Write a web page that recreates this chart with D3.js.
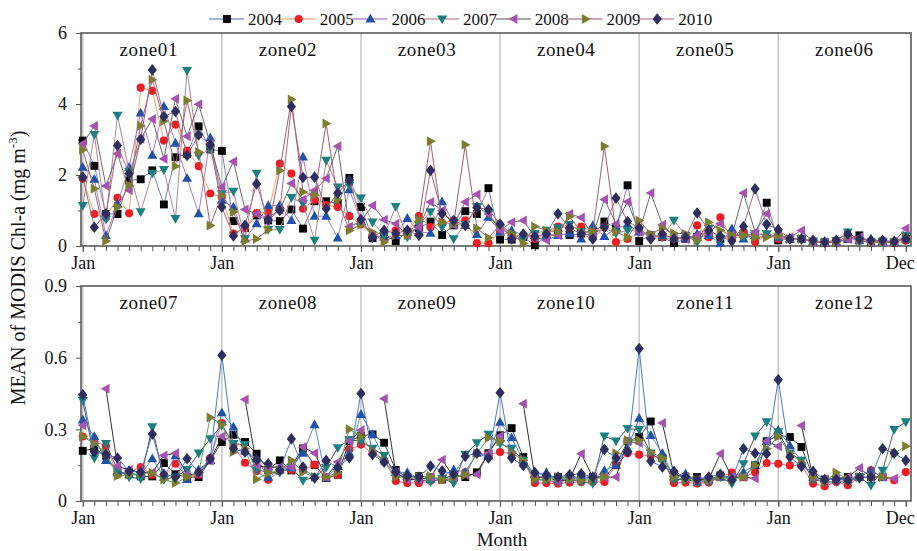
<!DOCTYPE html>
<html>
<head>
<meta charset="utf-8">
<style>
body { margin: 0; background: #fff; }
text { font-family: "Liberation Serif", "Times New Roman", serif; fill: #111; }
.axis .domain { display: none; }
.axis line { stroke: #555; }
</style>
</head>
<body>
<svg width="917" height="551"></svg>
<script src="https://d3js.org/d3.v7.min.js"></script>
<script>
var years = ["2004", "2005", "2006", "2007", "2008", "2009", "2010"];
var zonesUpper = ["zone01", "zone02", "zone03", "zone04", "zone05", "zone06"];
var zonesLower = ["zone07", "zone08", "zone09", "zone10", "zone11", "zone12"];
var tickLabels = ["Jan", "Jan", "Jan", "Jan", "Jan", "Jan", "Dec"];

// upper panel, 6 zones x 12 months
var upper2004 = [2.97,2.26,0.9,0.9,1.85,1.88,2.13,1.17,2.5,2.6,3.37,2.72,
  2.68,0.7,0.5,0.86,0.72,0.7,1.03,0.49,1.26,1.26,1.19,1.92,
  1.1,0.22,0.3,0.14,0.4,0.5,0.69,0.31,0.58,0.98,0.9,1.63,
  0.18,0.18,0.25,0.02,0.3,0.35,0.31,0.35,0.3,0.69,0.5,1.71,
  0.14,0.3,0.25,0.08,0.2,0.25,0.3,0.2,0.3,0.34,0.3,1.22,
  0.16,0.2,0.2,0.12,0.1,0.1,0.2,0.3,0.1,0.12,0.1,0.2];
var upper2005 = [1.9,0.9,0.8,1.36,0.92,4.46,4.37,2.97,3.42,2.69,2.25,1.48,
  1.38,0.35,0.5,0.93,0.94,2.32,2.04,1.05,1.3,1.15,1.1,0.84,
  0.61,0.3,0.4,0.44,0.4,0.84,0.53,0.65,0.72,0.72,0.08,0.08,
  0.4,0.3,0.3,0.2,0.3,0.55,0.5,0.55,0.4,0.53,0.11,0.2,
  0.4,0.25,0.25,0.2,0.2,0.58,0.25,0.81,0.2,0.39,0.11,0.3,
  0.2,0.2,0.2,0.12,0.1,0.13,0.2,0.15,0.1,0.12,0.08,0.15];
var upper2006 = [2.22,1.88,0.3,1.19,2.22,3.75,2.56,3.93,2.9,1.91,0.91,3.05,
  1.29,1.1,0.2,0.63,1.14,1.15,0.72,2.51,0.84,0.84,0.23,1.59,
  0.7,0.3,0.25,0.3,0.78,0.4,0.36,1.25,0.65,0.58,0.33,0.81,
  0.4,0.44,0.3,0.3,0.3,0.3,0.35,0.2,0.58,0.27,0.5,0.6,
  0.4,0.3,0.3,0.25,0.2,0.34,0.3,0.08,0.49,0.2,0.3,0.35,
  0.25,0.2,0.2,0.12,0.1,0.1,0.2,0.15,0.2,0.12,0.1,0.2];
var upper2007 = [1.14,3.14,0.75,3.68,2.1,0.96,2.05,2.15,0.77,4.94,2.55,2.73,
  1.47,1.54,0.2,2.05,0.46,0.46,1.36,1.2,0.16,2.41,1.66,1.7,
  1.35,0.67,0.3,1.11,0.25,0.6,0.96,0.53,0.2,0.6,1.11,0.9,
  0.5,0.3,0.2,0.35,0.44,0.51,0.6,0.4,0.35,0.5,0.36,0.44,
  0.45,0.3,0.25,0.72,0.3,0.11,0.5,0.2,0.25,0.25,0.34,0.34,
  0.25,0.2,0.2,0.12,0.1,0.15,0.39,0.15,0.1,0.12,0.1,0.3];
var upper2008 = [2.88,3.38,1.69,2.6,1.57,3.02,3.58,2.46,4.15,3.09,3.99,2.88,
  1.66,2.38,1.03,0.9,0.8,1.02,1.76,1.31,1.57,1.9,2.81,0.54,
  0.7,1.14,0.74,0.63,0.3,0.53,1.24,1.0,0.6,1.24,1.45,0.9,
  0.44,0.67,0.72,0.25,0.16,0.3,0.91,0.8,0.3,1.31,0.63,1.25,
  0.4,1.49,0.6,0.25,0.2,0.3,0.4,0.63,0.3,1.49,0.39,0.91,
  0.3,0.25,0.44,0.12,0.1,0.1,0.2,0.25,0.1,0.12,0.13,0.49];
var upper2009 = [2.71,1.61,0.14,1.1,1.71,3.39,4.68,3.52,2.25,4.1,2.65,0.58,
  1.43,0.96,0.14,0.2,0.46,2.13,4.13,1.52,1.43,3.45,1.3,0.44,
  0.6,0.39,0.11,0.3,0.3,0.74,2.95,0.67,0.62,2.85,0.5,0.23,
  0.6,0.35,0.08,0.55,0.44,0.4,0.83,0.4,0.4,2.81,0.4,0.25,
  0.72,0.34,0.5,0.36,0.34,0.16,0.67,0.44,0.3,0.3,0.25,0.25,
  0.3,0.2,0.2,0.12,0.1,0.1,0.3,0.15,0.1,0.12,0.1,0.25];
var upper2010 = [1.94,0.53,0.91,2.83,2.04,3.0,4.96,3.65,3.79,2.55,3.13,2.85,
  1.1,0.28,0.58,1.75,0.74,1.0,3.93,1.93,1.94,1.05,1.49,1.85,
  0.75,0.25,0.44,0.35,0.44,0.3,2.13,0.91,0.72,0.58,1.08,1.03,
  0.62,0.2,0.34,0.27,0.34,0.91,0.51,0.34,0.2,0.53,1.35,0.69,
  0.51,0.2,0.34,0.2,0.25,0.93,0.44,0.27,0.14,0.55,1.61,0.61,
  0.46,0.2,0.2,0.16,0.11,0.16,0.34,0.2,0.16,0.16,0.13,0.2];

// lower panel
var lower2004 = [0.21,0.22,0.19,0.12,0.12,0.103,0.103,0.159,0.112,0.1,0.1,0.17,
  0.247,0.277,0.247,0.198,0.13,0.17,0.128,0.22,0.15,0.096,0.11,0.25,
  0.273,0.279,0.244,0.13,0.1,0.104,0.1,0.09,0.11,0.1,0.12,0.2,
  0.275,0.305,0.184,0.1,0.1,0.1,0.1,0.1,0.1,0.1,0.15,0.25,
  0.268,0.333,0.18,0.11,0.1,0.1,0.09,0.107,0.1,0.1,0.15,0.25,
  0.275,0.268,0.226,0.1,0.09,0.09,0.1,0.1,0.1,0.1,null,null];
var lower2005 = [0.27,0.25,0.23,0.11,0.12,0.142,0.11,0.1,0.156,0.1,0.11,0.18,
  0.326,0.23,0.16,0.126,0.089,0.125,0.13,0.13,0.152,0.1,0.11,0.216,
  0.236,0.2,0.17,0.084,0.075,0.075,0.085,0.09,0.09,0.12,0.2,0.194,
  0.205,0.2,0.17,0.075,0.075,0.073,0.077,0.08,0.08,0.08,0.15,0.2,
  0.194,0.19,0.18,0.075,0.077,0.073,0.077,0.1,0.119,0.1,0.12,0.159,
  0.156,0.149,0.15,0.073,0.062,0.08,0.066,0.1,0.128,0.1,0.087,0.121];
var lower2006 = [0.34,0.27,0.17,0.125,0.11,0.11,0.177,0.1,0.19,0.09,0.131,0.17,
  0.37,0.31,0.21,0.177,0.1,0.13,0.14,0.2,0.32,0.096,0.145,0.2,
  0.363,0.279,0.18,0.12,0.12,0.095,0.09,0.1,0.131,0.121,0.2,0.19,
  0.33,0.265,0.17,0.11,0.119,0.09,0.09,0.1,0.09,0.128,0.15,0.22,
  0.347,0.275,0.2,0.1,0.114,0.08,0.09,0.1,0.1,0.121,0.15,0.25,
  0.296,0.233,0.167,0.1,0.093,0.09,0.09,0.1,0.128,0.1,null,null];
var lower2007 = [0.42,0.18,0.24,0.13,0.1,0.093,0.31,0.09,0.1,0.131,0.2,0.26,
  0.317,0.24,0.236,0.13,0.12,0.12,0.14,0.086,0.1,0.14,0.223,0.257,
  0.25,0.22,0.19,0.11,0.095,0.09,0.08,0.095,0.075,0.195,0.243,0.279,
  0.24,0.22,0.17,0.09,0.087,0.08,0.09,0.08,0.073,0.272,0.251,0.303,
  0.299,0.2,0.167,0.09,0.09,0.08,0.08,0.1,0.073,0.156,0.272,0.331,
  0.289,0.2,0.17,0.09,0.08,0.08,0.08,0.1,0.066,0.128,0.299,0.331];
var lower2008 = [0.317,null,0.47,0.145,0.13,0.12,0.12,0.19,0.2,0.11,0.114,0.17,
  0.27,null,0.425,0.15,0.14,0.142,0.142,0.226,0.2,0.1,0.163,0.25,
  0.296,null,0.428,0.12,0.09,0.09,0.1,0.173,0.1,0.11,0.112,0.2,
  0.272,null,0.407,0.1,0.1,0.084,0.09,0.198,0.1,0.1,0.1,0.25,
  0.243,null,0.327,0.11,0.1,0.09,0.09,0.198,0.1,0.1,0.094,0.25,
  0.229,null,0.316,0.1,0.09,0.094,0.1,0.138,0.1,0.1,0.094,null];
var lower2009 = [0.27,0.24,0.2,0.105,0.11,0.115,0.117,0.09,0.075,0.1,0.12,0.35,
  0.32,0.205,0.22,0.091,0.117,0.128,0.17,0.12,0.1,0.1,0.12,0.3,
  0.27,0.21,0.17,0.1,0.1,0.1,0.104,0.089,0.1,0.11,0.2,0.264,
  0.25,0.205,0.17,0.093,0.09,0.1,0.09,0.087,0.09,0.1,0.2,0.254,
  0.254,0.205,0.18,0.1,0.09,0.087,0.087,0.1,0.09,0.1,0.15,0.219,
  0.27,0.2,0.16,0.1,0.08,0.119,0.09,0.1,0.1,0.1,0.2,0.229];
var lower2010 = [0.445,0.205,0.195,0.18,0.125,0.12,0.28,0.112,0.1,0.177,0.12,0.177,
  0.61,0.22,0.205,0.173,0.156,0.13,0.26,0.142,0.096,0.17,0.14,0.181,
  0.45,0.195,0.162,0.121,0.104,0.1,0.146,0.126,0.112,0.187,0.2,0.18,
  0.453,0.18,0.149,0.119,0.107,0.1,0.11,0.114,0.1,0.216,0.18,0.205,
  0.638,0.167,0.142,0.124,0.1,0.09,0.1,0.112,0.089,0.219,0.2,0.198,
  0.508,0.184,0.145,0.124,0.089,0.09,0.087,0.098,0.1,0.219,0.2,0.17];

var upper = [upper2004, upper2005, upper2006, upper2007, upper2008, upper2009, upper2010];
var lower = [lower2004, lower2005, lower2006, lower2007, lower2008, lower2009, lower2010];

var markerFill = ["#000000", "#ee1d23", "#1f52a8", "#1a7f80", "#a652b0", "#7d7d30", "#2d2d5e"];
var upperLine = ["#7880bb", "#f5a468", "#a77cc4", "#b0868e", "#6a6a6a", "#a06070", "#a8667e"];
var lowerLine = ["#444444", "#f26d9b", "#5b8bd9", "#555555", "#333333", "#5ca85c", "#4a78c8"];
var legendLine = ["#9198c8", "#f6b98c", "#b98fcf", "#c49aa3", "#8c8c8c", "#b58b9f", "#c299ab"];

var shapes = [
  d3.symbol().type(d3.symbolSquare).size(62)(),
  d3.symbol().type(d3.symbolCircle).size(52)(),
  "M0,-5.2L5,3.6L-5,3.6Z",
  "M0,5.2L5,-3.6L-5,-3.6Z",
  "M-5.2,0L3.6,-5L3.6,5Z",
  "M5.2,0L-3.6,-5L-3.6,5Z",
  "M0,-5.8L4.6,0L0,5.8L-4.6,0Z"
];

var svg = d3.select("svg");
var x = d3.scaleLinear().domain([-0.15, 71.45]).range([81, 911]);

var panels = [
  {top: 33, bottom: 246, max: 6, ticks: [0, 2, 4, 6], minor: [1, 3, 5], fmt: d3.format("d"),
   data: upper, lines: upperLine, zones: zonesUpper},
  {top: 286, bottom: 501, max: 0.9, ticks: [0, 0.3, 0.6, 0.9], minor: [0.15, 0.45, 0.75],
   fmt: function(d) { return d === 0 ? "0" : d3.format(".1f")(d); },
   data: lower, lines: lowerLine, zones: zonesLower}
];

panels.forEach(function(p) {
  var y = d3.scaleLinear().domain([0, p.max]).range([p.bottom, p.top]);
  var g = svg.append("g");

  // zone separators
  g.selectAll(".sep")
    .data(d3.range(0, 72, 12))
    .enter().append("line")
      .attr("x1", function(d) { return x(d); })
      .attr("x2", function(d) { return x(d); })
      .attr("y1", p.top)
      .attr("y2", p.bottom)
      .attr("stroke", "#c6c6c6")
      .attr("stroke-width", 1.5);

  g.selectAll(".zone")
    .data(p.zones)
    .enter().append("text")
      .attr("x", function(d, i) { return x(i * 12 + 5.7); })
      .attr("y", p.top + 23)
      .attr("text-anchor", "middle")
      .attr("font-size", 19)
      .attr("letter-spacing", 0.6)
      .text(function(d) { return d; });

  // axes
  g.append("g").attr("class", "axis")
    .attr("transform", "translate(81,0)")
    .call(d3.axisLeft(y).tickValues(p.ticks).tickSize(5).tickPadding(9).tickFormat(p.fmt))
    .selectAll("text").attr("font-size", 18).attr("font-family", null).attr("fill", "#111");
  g.append("g").attr("class", "axis")
    .attr("transform", "translate(81,0)")
    .call(d3.axisLeft(y).tickValues(p.minor).tickSize(3).tickFormat(""));

  g.append("g").attr("class", "axis")
    .attr("transform", "translate(0," + p.bottom + ")")
    .call(d3.axisBottom(x).tickValues(d3.range(72)).tickSize(5).tickFormat(""));
  g.append("g").attr("class", "axis")
    .attr("transform", "translate(0," + p.bottom + ")")
    .call(d3.axisBottom(x).tickValues([0, 12, 24, 36, 48, 60, 71]).tickSize(6).tickPadding(4)
      .tickFormat(function(d, i) { return tickLabels[i]; }))
    .selectAll("text")
      .attr("font-size", 18).attr("font-family", null).attr("fill", "#111")
      .attr("dx", function(d) { return d === 71 ? -6 : 0; });

  g.append("rect")
    .attr("x", 81)
    .attr("y", p.top)
    .attr("width", 830)
    .attr("height", p.bottom - p.top)
    .attr("fill", "none")
    .attr("stroke", "#5a5a5a")
    .attr("stroke-width", 1.6);

  var line = d3.line()
    .defined(function(d) { return d != null; })
    .x(function(d, i) { return x(i); })
    .y(function(d) { return y(d); });

  p.data.forEach(function(vals, k) {
    var s = g.append("g");
    s.append("path")
      .attr("d", line(vals))
      .attr("fill", "none")
      .attr("stroke", p.lines[k])
      .attr("stroke-width", 1);
    s.selectAll("path.m")
      .data(vals.map(function(v, i) { return {i: i, v: v}; }).filter(function(d) { return d.v != null; }))
      .enter().append("path")
        .attr("class", "m")
        .attr("d", shapes[k])
        .attr("transform", function(d) { return "translate(" + x(d.i) + "," + y(d.v) + ")"; })
        .attr("fill", markerFill[k]);
  });
});

// legend
var legend = svg.append("g")
  .selectAll("g")
  .data(years)
  .enter().append("g")
    .attr("transform", function(d, i) { return "translate(" + (227 + i * 71.7) + ",19)"; });

legend.append("line")
  .attr("x1", -18).attr("x2", 17)
  .attr("stroke", function(d, i) { return legendLine[i]; })
  .attr("stroke-width", 1.5);
legend.append("path")
  .attr("d", function(d, i) { return shapes[i]; })
  .attr("fill", function(d, i) { return markerFill[i]; });
legend.append("text")
  .attr("x", 21)
  .attr("y", 6)
  .attr("font-size", 17)
  .text(function(d) { return d; });

// titles
var yt = svg.append("text")
  .attr("transform", "translate(25,268) rotate(-90)")
  .attr("text-anchor", "middle")
  .attr("font-size", 20);
yt.append("tspan").text("MEAN of MODIS Chl-a (mg m");
yt.append("tspan").attr("font-size", 13).attr("dy", -8).text("-3");
yt.append("tspan").attr("dy", 8).text(")");

svg.append("text")
  .attr("x", 502)
  .attr("y", 546)
  .attr("text-anchor", "middle")
  .attr("font-size", 19)
  .text("Month");
</script>
</body>
</html>
